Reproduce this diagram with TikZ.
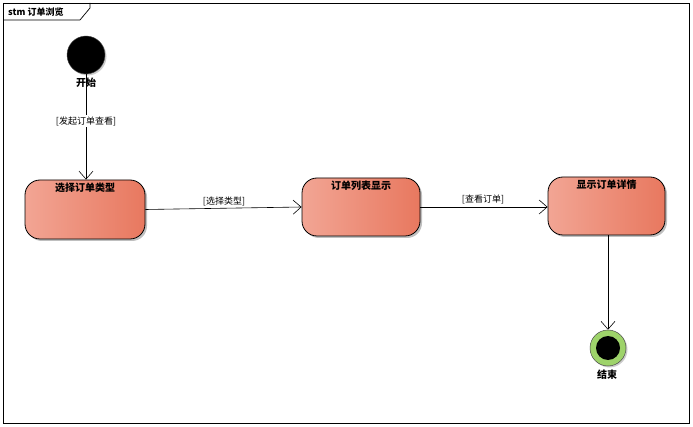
\documentclass[tikz,border=0pt]{standalone}
\usepackage{fontspec}
\setmainfont{Noto Sans CJK SC}
\usetikzlibrary{arrows.meta,shadows}
\definecolor{stL}{HTML}{F2A594}
\definecolor{stR}{HTML}{E8785F}
\definecolor{finG}{HTML}{9ED36A}
\tikzset{
  statebox/.style={draw=black, line width=0.8pt, rounded corners=15pt, minimum width=120pt, minimum height=59pt,
    left color=stL, right color=stR,
    drop shadow={shadow xshift=2pt, shadow yshift=-2pt, opacity=0.25, fill=black}},
  title/.style={font=\fontsize{10}{11}\selectfont\bfseries, inner sep=0pt},
  lbl/.style={font=\fontsize{9}{10}\selectfont, inner sep=1pt},
  flow/.style={draw=black, line width=0.6pt, -{Straight Barb[length=8pt,width=14pt,line width=0.6pt]}},
}
\begin{document}
\begin{tikzpicture}[x=1pt,y=-1pt]
\useasboundingbox (0,0) rectangle (693,427);
\fill[white] (0,0) rectangle (693,427);
\draw[line width=0.7pt] (3,3) rectangle (689,423);
\draw[line width=0.7pt] (3,20) -- (80,20) -- (90,8) -- (90,3);
\node[anchor=west, font=\fontsize{9}{10}\selectfont\bfseries, inner sep=0pt] (frame) at (8,12) {stm 订单浏览};
% start
\node[circle, fill=black, draw=black!70, minimum size=38pt, inner sep=0pt,
  drop shadow={shadow xshift=1.5pt, shadow yshift=-1.5pt, opacity=0.2, fill=black}] (start) at (86,55) {};
\node[title] (startl) at (86,83) {开始};
% states
\node[statebox, minimum width=120pt, minimum height=59pt] (s1) at (85,209.5) {};
\node[title] (s1t) at (85,188) {选择订单类型};
\node[statebox, minimum width=118pt, minimum height=58pt] (s2) at (361,207) {};
\node[title] (s2t) at (361,186) {订单列表显示};
\node[statebox, minimum width=117pt, minimum height=58pt] (s3) at (606.5,206) {};
\node[title] (s3t) at (606.5,185) {显示订单详情};
% end
\node[circle, fill=finG, draw=black!70, line width=0.5pt, minimum size=36pt, inner sep=0pt,
  drop shadow={shadow xshift=1.5pt, shadow yshift=-1.5pt, opacity=0.2, fill=black}] (end) at (608,348) {};
\node[circle, fill=black, minimum size=24pt, inner sep=0pt] (endin) at (608,348) {};
\node[title] (endl) at (607,375) {结束};
% flows
\coordinate (a1) at (86,74);
\draw[flow] (a1) -- (s1.north -| a1);
\node[lbl, fill=white] (l1) at (86,121) {[发起订单查看]};
\draw[flow] (s1.east) -- (s2.west);
\node[lbl] (l2) at (224,201) {[选择类型]};
\draw[flow] (s2.east) -- (s3.west |- s2.east);
\node[lbl] (l3) at (483,199) {[查看订单]};
\draw[flow] (s3.south -| end) -- (end.north);
\end{tikzpicture}
\end{document}
